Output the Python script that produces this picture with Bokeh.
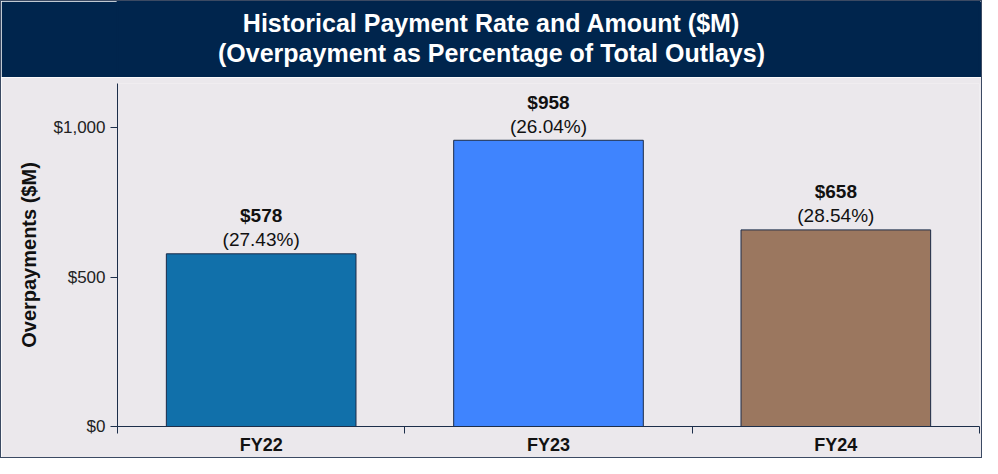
from bokeh.plotting import figure
from bokeh.models import Range1d, FixedTicker, NumeralTickFormatter, ColumnDataSource
from bokeh.layouts import column
from bokeh.embed import file_html
from bokeh.resources import INLINE
from bokeh.core.properties import value

# ---- data ----
categories = ["FY22", "FY23", "FY24"]
overpayments = [578, 958, 658]
rates = [27.43, 26.04, 28.54]
bar_colors = ["#1170aa", "#3f84fe", "#9b775f"]
title_lines = ["Historical Payment Rate and Amount ($M)",
               "(Overpayment as Percentage of Total Outlays)"]
y_ticks = [0, 500, 1000]
y_label = "Overpayments ($M)"

# ---- style ----
FONT = "Liberation Sans"
NAVY = "#00254d"
BG = "#ebe8ec"
AXIS = "#1c2e4a"
W = 980
LEFT = 116
RIGHT = 2

x_pos = [i + 0.5 for i in range(len(categories))]
src = ColumnDataSource(dict(
    x=x_pos, top=overpayments, color=bar_colors,
    amt=[f"${v:,}" for v in overpayments],
    pct=[f"({r:.2f}%)" for r in rates],
))

# header band (frame aligned with the chart below; x range spans whole width)
header = figure(width=W, height=76,
                x_range=Range1d(LEFT / W, (W - RIGHT) / W), y_range=Range1d(0, 1),
                x_axis_type=None, y_axis_type=None, toolbar_location=None,
                output_backend="svg", min_border_left=LEFT, min_border_right=RIGHT,
                min_border_top=0, min_border_bottom=0)
header.grid.visible = False
header.background_fill_color = NAVY
header.border_fill_color = NAVY
header.outline_line_color = NAVY
header.outline_line_width = 2
header.text(x=[0.5, 0.5], y=[0.72, 0.32], text=title_lines,
            text_align="center", text_baseline="middle",
            text_font=value(FONT), text_font_size="25px", text_font_style="bold",
            text_color="white")

# main chart
p = figure(width=W, height=380, x_range=Range1d(0, len(categories)), y_range=Range1d(0, 1148),
           toolbar_location=None, output_backend="svg",
           min_border_left=LEFT, min_border_right=RIGHT, min_border_top=6, min_border_bottom=31)
p.background_fill_color = BG
p.border_fill_color = BG
p.outline_line_color = None
p.grid.visible = False

p.vbar(x="x", top="top", width=0.66, fill_color="color", line_color="#1b2b48",
       line_width=1, source=src)
p.text(x="x", y="top", text="pct", y_offset=-14, text_baseline="middle", text_align="center",
       text_font=value(FONT), text_font_size="19px", text_color="#111111", source=src)
p.text(x="x", y="top", text="amt", y_offset=-38, text_baseline="middle", text_align="center",
       text_font=value(FONT), text_font_size="19px", text_font_style="bold",
       text_color="#111111", source=src)

xa = p.xaxis[0]
xa.ticker = FixedTicker(ticks=x_pos, minor_ticks=list(range(len(categories) + 1)))
xa.major_label_overrides = {xp: c for xp, c in zip(x_pos, categories)}
xa.major_tick_line_color = None
xa.minor_tick_in = 0
xa.minor_tick_out = 7
xa.minor_tick_line_color = AXIS
xa.axis_line_color = AXIS
xa.major_label_standoff = 1
xa.major_label_text_font = FONT
xa.major_label_text_font_size = "18px"
xa.major_label_text_font_style = "bold"
xa.major_label_text_color = "#111111"

ya = p.yaxis[0]
ya.ticker = FixedTicker(ticks=y_ticks)
ya.formatter = NumeralTickFormatter(format="$0,0")
ya.major_tick_in = 0
ya.major_tick_out = 7
ya.major_tick_line_color = AXIS
ya.minor_tick_line_color = None
ya.axis_line_color = AXIS
ya.major_label_standoff = 5
ya.major_label_text_font = FONT
ya.major_label_text_font_size = "17px"
ya.major_label_text_color = "#222222"
ya.axis_label = y_label
ya.axis_label_standoff = 11
ya.axis_label_text_font = FONT
ya.axis_label_text_font_size = "20px"
ya.axis_label_text_font_style = "bold"
ya.axis_label_text_color = "#111111"

layout = column(header, p, spacing=0, styles={"border": "1px solid #3b4a63"})

open("out.html", "w").write(file_html(layout, INLINE))
